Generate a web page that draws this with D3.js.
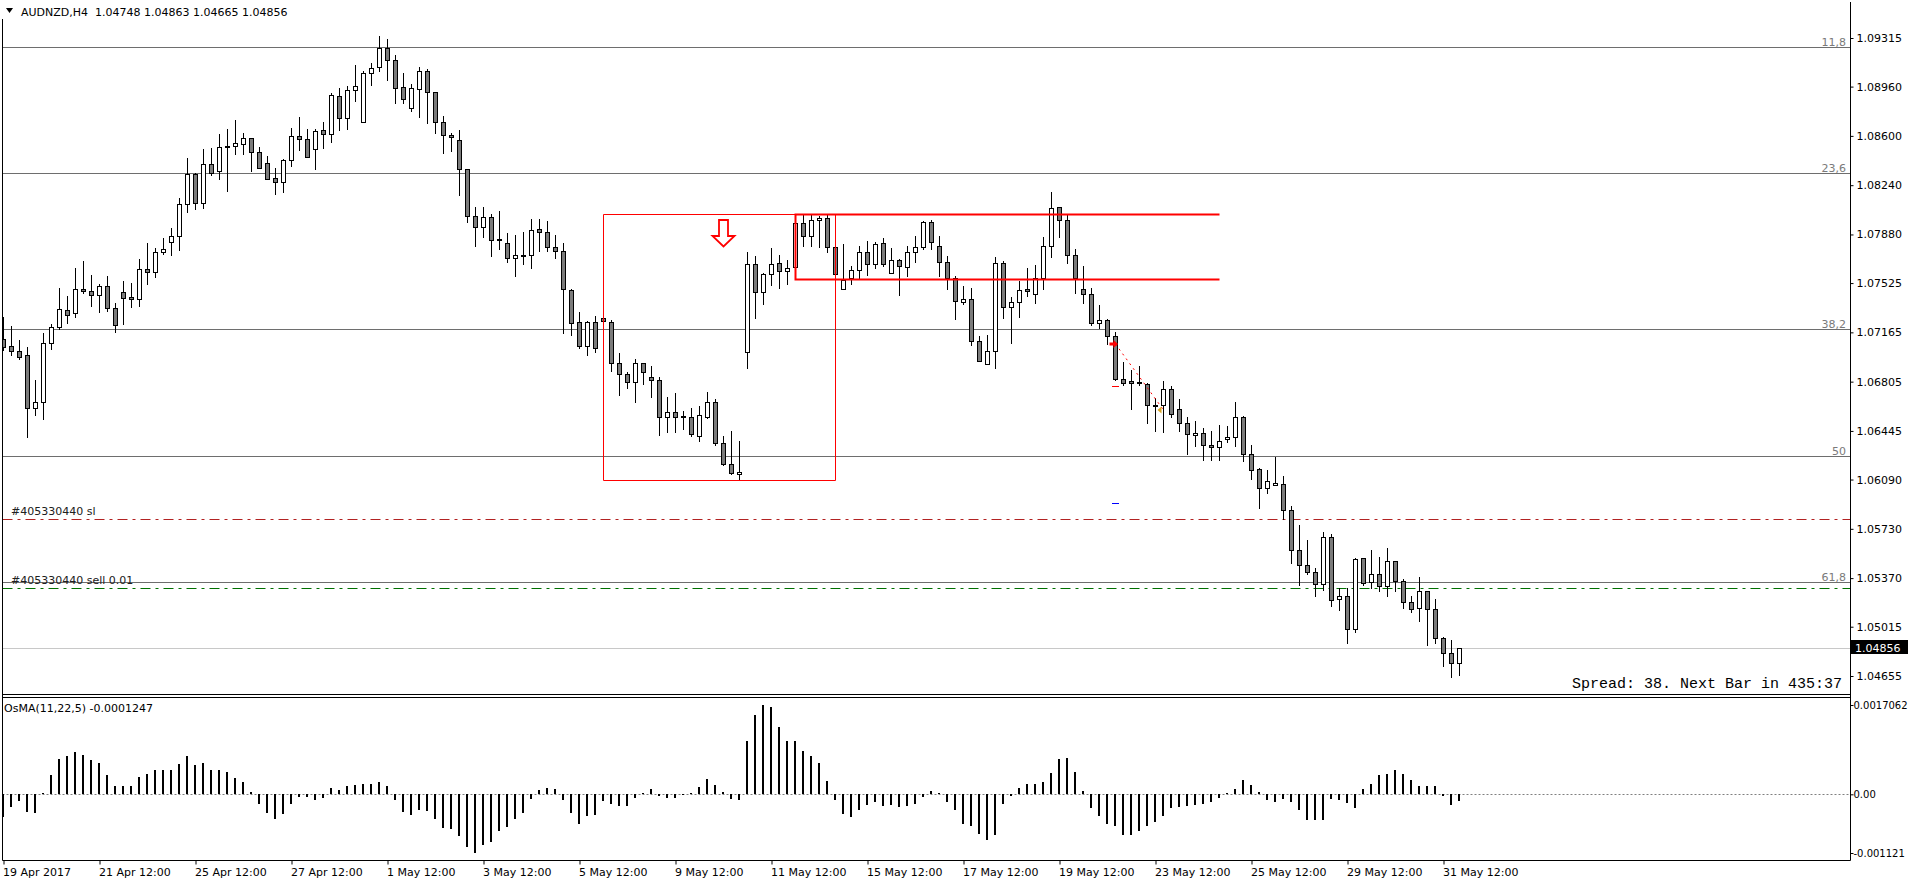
<!DOCTYPE html>
<html>
<head>
<meta charset="utf-8">
<style>
  body { margin: 0; background: #fff; }
  svg { display: block; }
  svg text {
    font-family: "DejaVu Sans", sans-serif;
    font-size: 11px;
    fill: #000;
  }
  svg text.mono {
    font-family: "Liberation Mono", "Courier New", monospace;
    font-size: 15px;
  }
  .axis path.domain { display: none; }
  .axis line { stroke: #000; }
  .osma-axis text { font-size: 10px; }
</style>
<script src="https://d3js.org/d3.v7.min.js"></script>
</head>
<body>
<script>
// AUDNZD H4, 19 Apr 2017 .. 31 May 2017
const open = [1.07117,1.07065,1.07029,1.07000,1.06613,1.06656,1.07087,1.07204,1.07328,1.07306,
  1.07482,1.07467,1.07438,1.07504,1.07343,1.07460,1.07423,1.07409,1.07628,1.07606,
  1.07752,1.07825,1.07869,1.08103,1.08322,1.08110,1.08395,1.08344,1.08526,1.08526,
  1.08541,1.08585,1.08482,1.08402,1.08293,1.08263,1.08424,1.08599,1.08577,1.08504,
  1.08643,1.08614,1.08891,1.08731,1.08935,1.08702,1.09059,1.09103,1.09242,1.09154,
  1.08957,1.08804,1.08943,1.09074,1.08921,1.08702,1.08607,1.08570,1.08358,1.08015,
  1.07935,1.08008,1.07847,1.07818,1.07708,1.07730,1.07730,1.07920,1.07898,1.07789,
  1.07759,1.07474,1.07241,1.07065,1.07241,1.07270,1.07241,1.06941,1.06861,1.06803,
  1.06941,1.06839,1.06817,1.06547,1.06583,1.06554,1.06547,1.06408,1.06547,1.06656,
  1.06357,1.06203,1.06130,1.07022,1.07664,1.07460,1.07591,1.07672,1.07613,1.07642,
  1.07964,1.07869,1.07986,1.08000,1.07789,1.07482,1.07562,1.07620,1.07752,1.07664,
  1.07818,1.07599,1.07694,1.07642,1.07752,1.07789,1.07971,1.07796,1.07679,1.07562,
  1.07387,1.07409,1.07102,1.06934,1.07029,1.07672,1.07350,1.07387,1.07482,1.07445,
  1.07562,1.07796,1.08081,1.07986,1.07730,1.07482,1.07445,1.07233,1.07255,1.07139,
  1.06824,1.06810,1.06803,1.06788,1.06634,1.06634,1.06751,1.06605,1.06503,1.06415,
  1.06430,1.06342,1.06328,1.06386,1.06401,1.06547,1.06277,1.06167,1.06028,1.06050,
  1.06058,1.05868,1.05575,1.05466,1.05415,1.05327,1.05670,1.05217,1.05239,1.04998,
  1.05517,1.05342,1.05400,1.05312,1.05495,1.05349,1.05196,1.05152,1.05276,1.05144,
  1.04933,1.04823,1.04748];
const high = [1.07277,1.07212,1.07109,1.07058,1.06817,1.07160,1.07226,1.07489,1.07431,1.07635,
  1.07686,1.07584,1.07518,1.07577,1.07380,1.07540,1.07526,1.07701,1.07818,1.07781,
  1.07854,1.07927,1.08146,1.08439,1.08329,1.08504,1.08512,1.08614,1.08650,1.08716,
  1.08621,1.08585,1.08519,1.08453,1.08366,1.08431,1.08658,1.08738,1.08650,1.08650,
  1.08702,1.08913,1.08950,1.08965,1.09118,1.09074,1.09132,1.09330,1.09308,1.09191,
  1.09059,1.08979,1.09103,1.09089,1.08921,1.08745,1.08621,1.08643,1.08358,1.08081,
  1.08081,1.08030,1.08052,1.07891,1.07876,1.07898,1.07993,1.07993,1.07978,1.07876,
  1.07818,1.07482,1.07314,1.07248,1.07285,1.07270,1.07255,1.07014,1.06876,1.06971,
  1.06941,1.06919,1.06839,1.06693,1.06722,1.06591,1.06613,1.06627,1.06729,1.06678,
  1.06408,1.06445,1.06371,1.07752,1.07723,1.07599,1.07781,1.07730,1.07694,1.07964,
  1.08022,1.08030,1.08015,1.08022,1.07789,1.07810,1.07650,1.07796,1.07832,1.07825,
  1.07854,1.07781,1.07701,1.07796,1.07869,1.07978,1.07986,1.07869,1.07723,1.07577,
  1.07504,1.07489,1.07139,1.07146,1.07716,1.07686,1.07423,1.07540,1.07635,1.07657,
  1.07862,1.08190,1.08081,1.08030,1.07774,1.07650,1.07489,1.07365,1.07263,1.07168,
  1.06949,1.06890,1.06919,1.06795,1.06686,1.06810,1.06773,1.06678,1.06547,1.06518,
  1.06467,1.06445,1.06488,1.06481,1.06656,1.06554,1.06342,1.06174,1.06160,1.06255,
  1.06116,1.05897,1.05758,1.05648,1.05444,1.05707,1.05692,1.05298,1.05298,1.05517,
  1.05517,1.05575,1.05524,1.05590,1.05495,1.05365,1.05239,1.05378,1.05276,1.05217,
  1.04940,1.04918,1.04863];
const low = [1.07036,1.07000,1.06971,1.06401,1.06561,1.06532,1.07044,1.07190,1.07233,1.07277,
  1.07453,1.07358,1.07314,1.07321,1.07168,1.07226,1.07350,1.07358,1.07518,1.07569,
  1.07737,1.07730,1.07767,1.08044,1.08066,1.08073,1.08314,1.08285,1.08198,1.08468,
  1.08468,1.08344,1.08366,1.08285,1.08176,1.08190,1.08380,1.08497,1.08446,1.08358,
  1.08512,1.08555,1.08643,1.08650,1.08855,1.08702,1.08972,1.09074,1.09008,1.08840,
  1.08840,1.08782,1.08738,1.08694,1.08621,1.08475,1.08490,1.08168,1.07971,1.07796,
  1.07862,1.07723,1.07774,1.07679,1.07577,1.07664,1.07635,1.07759,1.07759,1.07708,
  1.07160,1.07146,1.07051,1.07000,1.07023,1.07241,1.06883,1.06708,1.06759,1.06656,
  1.06788,1.06693,1.06415,1.06437,1.06437,1.06459,1.06408,1.06371,1.06539,1.06342,
  1.06196,1.06130,1.06087,1.06905,1.07270,1.07372,1.07511,1.07489,1.07518,1.07642,
  1.07796,1.07796,1.07789,1.07752,1.07591,1.07482,1.07518,1.07562,1.07584,1.07635,
  1.07650,1.07599,1.07438,1.07577,1.07679,1.07774,1.07774,1.07577,1.07482,1.07263,
  1.07372,1.07073,1.06956,1.06934,1.06905,1.07270,1.07087,1.07277,1.07431,1.07380,
  1.07482,1.07716,1.07862,1.07672,1.07453,1.07380,1.07219,1.07197,1.07080,1.06817,
  1.06781,1.06605,1.06781,1.06503,1.06445,1.06437,1.06547,1.06445,1.06277,1.06335,
  1.06233,1.06233,1.06233,1.06364,1.06335,1.06225,1.06094,1.05882,1.05992,1.06050,
  1.05802,1.05480,1.05320,1.05400,1.05239,1.05283,1.05166,1.05137,1.04896,1.04976,
  1.05320,1.05298,1.05276,1.05239,1.05276,1.05152,1.05123,1.05057,1.04881,1.04896,
  1.04728,1.04648,1.04665];
const close = [1.07058,1.07029,1.06985,1.06613,1.06656,1.07087,1.07204,1.07336,1.07292,1.07482,
  1.07467,1.07438,1.07504,1.07343,1.07219,1.07416,1.07409,1.07628,1.07606,1.07752,
  1.07774,1.07869,1.08103,1.08322,1.08110,1.08395,1.08329,1.08519,1.08519,1.08548,
  1.08585,1.08482,1.08366,1.08285,1.08263,1.08424,1.08599,1.08577,1.08446,1.08636,
  1.08614,1.08899,1.08731,1.08935,1.08965,1.09059,1.09096,1.09242,1.09154,1.08950,
  1.08870,1.08950,1.09074,1.08921,1.08702,1.08607,1.08592,1.08358,1.08015,1.07935,
  1.08008,1.07840,1.07840,1.07708,1.07730,1.07723,1.07913,1.07898,1.07789,1.07759,
  1.07482,1.07233,1.07065,1.07241,1.07051,1.07248,1.06941,1.06861,1.06803,1.06941,
  1.06876,1.06817,1.06547,1.06583,1.06547,1.06547,1.06423,1.06561,1.06656,1.06357,
  1.06203,1.06138,1.06145,1.07664,1.07460,1.07591,1.07664,1.07613,1.07635,1.07964,
  1.07869,1.07986,1.08000,1.07789,1.07591,1.07547,1.07620,1.07752,1.07664,1.07810,
  1.07664,1.07694,1.07650,1.07752,1.07789,1.07971,1.07825,1.07679,1.07562,1.07394,
  1.07409,1.07102,1.06956,1.07029,1.07672,1.07350,1.07387,1.07474,1.07467,1.07562,
  1.07796,1.08073,1.07986,1.07730,1.07562,1.07445,1.07233,1.07255,1.07139,1.06824,
  1.06795,1.06795,1.06795,1.06634,1.06635,1.06751,1.06569,1.06503,1.06423,1.06430,
  1.06342,1.06328,1.06371,1.06401,1.06547,1.06277,1.06160,1.06028,1.06079,1.06065,
  1.05868,1.05575,1.05466,1.05415,1.05327,1.05670,1.05210,1.05239,1.04998,1.05510,
  1.05334,1.05400,1.05312,1.05495,1.05349,1.05196,1.05144,1.05276,1.05144,1.04933,
  1.04823,1.04748,1.04856];

// OsMA(11,22,5) histogram
const osma = [-0.0004259,-0.0002483,-0.0001203,-0.0003438,-0.0003495,0.0000191,0.0003686,0.0006742,0.0007315,0.0008079,
  0.0007506,0.0006551,0.0005978,0.0003686,0.0001585,0.0001585,0.0001585,0.0003304,0.0003877,0.0004641,
  0.0004641,0.0004641,0.0005787,0.0007315,0.0005596,0.0005978,0.0004641,0.0004641,0.0004259,0.0003113,
  0.0002349,0.0000439,-0.0001776,-0.0003495,-0.0004641,-0.0003763,-0.0001776,-0.0000573,-0.0000573,-0.0001146,
  -0.0000764,0.0001146,0.0000898,0.0001585,0.0001776,0.000191,0.000191,0.0002349,0.0001585,-0.0001012,
  -0.0003304,-0.0003877,-0.0003056,-0.0003247,-0.0004775,-0.0006494,-0.0006685,-0.0008022,-0.0010123,-0.001121,
  -0.0009741,-0.0009168,-0.0007067,-0.0006303,-0.0004775,-0.0003629,-0.0000955,0.0000764,0.0001146,0.0000955,
  -0.0001146,-0.0003629,-0.0005596,-0.0004202,-0.0004011,-0.0001337,-0.000191,-0.0002292,-0.0002235,-0.0000764,
  0.0000325,0.0001089,-0.0000325,-0.0000764,-0.0000764,0.0000096,0.0000191,0.0001394,0.0002865,0.0001776,
  0.0000439,-0.0000955,-0.0001146,0.0010123,0.0015223,0.0017062,0.0016617,0.0012797,0.0010123,0.0010123,
  0.0008213,0.0007258,0.0006055,0.000254,-0.0001012,-0.0003763,-0.0004259,-0.0002922,-0.0002044,-0.0001528,
  -0.0002235,-0.0002044,-0.0002426,-0.0002235,-0.0001776,-0.0000573,0.0000573,0.0000248,-0.0001394,-0.0003056,
  -0.0005596,-0.0005978,-0.0007583,-0.0008729,-0.0007774,-0.000191,-0.0000325,0.0001146,0.000191,0.000191,
  0.0002349,0.0004068,0.0006742,0.0006933,0.0004259,0.0000573,-0.0002674,-0.0004202,-0.0005596,-0.0005978,
  -0.0007831,-0.0007774,-0.0007067,-0.0005978,-0.0005214,-0.0004202,-0.000254,-0.0002349,-0.0002235,-0.0002101,
  -0.0001776,-0.0001528,-0.0000764,0.0000325,0.0001012,0.0002674,0.0001776,0.0000439,-0.0001146,-0.0001394,
  -0.0000898,-0.0001394,-0.0002922,-0.0004966,-0.0004966,-0.0004966,-0.0000955,-0.0001012,-0.0001719,-0.0002617,
  0.0000955,0.0002044,0.0003763,0.000382,0.0004641,0.000382,0.0002674,0.0001528,0.0001662,0.0001528,
  -0.0000325,-0.0002101,-0.0001247];

const timeLabels = ["19 Apr 2017","21 Apr 12:00","25 Apr 12:00","27 Apr 12:00","1 May 12:00","3 May 12:00",
  "5 May 12:00","9 May 12:00","11 May 12:00","15 May 12:00","17 May 12:00","19 May 12:00",
  "23 May 12:00","25 May 12:00","29 May 12:00","31 May 12:00"];
const labelEvery = 12;
const priceTicks = [1.09315,1.08960,1.08600,1.08240,1.07880,1.07525,1.07165,1.06805,1.06445,1.06090,1.05730,1.05370,1.05015,1.04655];
const osmaTicks = [0.0017062, 0, -0.001121];
const osmaTickText = ["0.0017062", "0.00", "-0.001121"];

const fiboNames = ["11,8", "23,6", "38,2", "50", "61,8"];
const fiboPrices = [1.09249, 1.08327, 1.07186, 1.06262, 1.05342];

const orderNames = ["#405330440 sl", "#405330440 sell 0.01"];
const orderPrices = [1.05802, 1.05298];
const bid = 1.04856;

// rectangles: [start bar, end bar], [top price, bottom price]
const boxBars = [[75, 104], [99, 152]];
const boxPrices = [[1.08030, 1.06087], [1.08030, 1.07555]];
const arrowBar = 90, arrowPrice = 1.07986;
const tradeBars = [139, 145];
const tradePrices = [1.07080, 1.06598];
const stopMarks = [1.06773, 1.05919];

const header = "AUDNZD,H4  1.04748 1.04863 1.04665 1.04856";
const osmaName = "OsMA(11,22,5) -0.0001247";
const spreadText = "Spread: 38. Next Bar in 435:37";

// ---------------------------------------------------------------
const W = 1910, H = 884;
const plotL = 2.5, plotR = 1850.5;
const mainBottom = 694.5, subTop = 697.5, subBottom = 860.5;
const crisp = v => Math.round(v) + 0.5;

const svg = d3.select("body").append("svg")
    .attr("width", W).attr("height", H);

const x = d3.scaleLinear().domain([0, open.length - 1]).range([3.5, 3.5 + 8 * (open.length - 1)]);
const y = d3.scaleLinear().domain([1.04655, 1.09315]).range([676, 38]);
const yo = d3.scaleLinear().domain([-0.001121, 0.0017062]).range([853, 705]);

const defs = svg.append("defs");
defs.append("clipPath").attr("id", "clipMain")
    .append("rect").attr("x", 3).attr("y", 0).attr("width", plotR - 3.5).attr("height", 694);
defs.append("clipPath").attr("id", "clipSub")
    .append("rect").attr("x", 3).attr("y", 698).attr("width", plotR - 3.5).attr("height", 162);

const main = svg.append("g").attr("clip-path", "url(#clipMain)");

// fibo levels (background)
main.selectAll("line.fibo").data(fiboPrices).join("line")
    .attr("class", "fibo")
    .attr("x1", plotL).attr("x2", plotR)
    .attr("y1", d => crisp(y(d))).attr("y2", d => crisp(y(d)))
    .attr("stroke", "#6e6e6e");

// order lines
const orderColors = ["#b22222", "#007000"];
main.selectAll("line.order").data(orderPrices).join("line")
    .attr("class", "order")
    .attr("x1", plotL).attr("x2", plotR)
    .attr("y1", d => crisp(y(d))).attr("y2", d => crisp(y(d)))
    .attr("stroke", (d, i) => orderColors[i])
    .attr("stroke-dasharray", "10,5,3,5");

// bid line
main.append("line")
    .attr("x1", plotL).attr("x2", plotR)
    .attr("y1", crisp(y(bid))).attr("y2", crisp(y(bid)))
    .attr("stroke", "#c8c8c8");

// candles
const bars = d3.range(open.length);
const cg = main.append("g");
cg.selectAll("line.wick").data(bars).join("line")
    .attr("class", "wick")
    .attr("x1", i => x(i)).attr("x2", i => x(i))
    .attr("y1", i => Math.round(y(high[i])))
    .attr("y2", i => Math.round(y(low[i])) + 1)
    .attr("stroke", "#000");
cg.selectAll("rect.body").data(bars).join("rect")
    .attr("class", "body")
    .attr("x", i => x(i) - 2)
    .attr("width", 4)
    .attr("y", i => Math.round(y(Math.max(open[i], close[i]))) + 0.5)
    .attr("height", i => Math.max(1, Math.round(y(Math.min(open[i], close[i]))) - Math.round(y(Math.max(open[i], close[i])))))
    .attr("fill", i => close[i] >= open[i] ? "#fff" : "#7b7b7b")
    .attr("stroke", "#000");

// rectangles (the second one is open on its right side, as in the terminal)
main.selectAll("path.box").data(boxBars).join("path")
    .attr("class", "box")
    .attr("d", (d, i) => {
        const x0 = x(d[0]), x1 = x(d[1]);
        const y0 = crisp(y(boxPrices[i][0])), y1 = crisp(y(boxPrices[i][1]));
        return i === 0
            ? `M${x0},${y0} H${x1} V${y1} H${x0} Z`
            : `M${x1},${y0} H${x0} V${y1} H${x1}`;
    })
    .attr("fill", "none")
    .attr("stroke", "#ff0000")
    .attr("stroke-width", (d, i) => i === 0 ? 1 : 2);

// sell arrow
const ax = x(arrowBar), ay = Math.round(y(arrowPrice));
main.append("path")
    .attr("d", `M${ax - 4.5},${ay} h9 v16 h6.5 l-11,10.5 l-11,-10.5 h6.5 z`)
    .attr("fill", "#fff")
    .attr("stroke", "#ff0000")
    .attr("stroke-width", 1.8)
    .attr("stroke-linejoin", "miter");

// trade marks
const t0x = x(tradeBars[0]), t0y = y(tradePrices[0]);
const t1x = x(tradeBars[1]), t1y = y(tradePrices[1]);
main.append("line")
    .attr("x1", t0x).attr("y1", t0y).attr("x2", t1x).attr("y2", t1y)
    .attr("stroke", "#ff0000").attr("stroke-dasharray", "2,4");
main.append("path")
    .attr("d", `M${t0x - 6},${t0y - 1.5} h4 v-2.5 l4.5,4 l-4.5,4 v-2.5 h-4 z`)
    .attr("fill", "#ff0000");
main.append("path")
    .attr("d", `M${t1x - 2},${t1y - 3.5} v7 l-4,-3.5 z`)
    .attr("fill", "#daa520");
main.selectAll("line.stopmark").data(stopMarks).join("line")
    .attr("class", "stopmark")
    .attr("x1", x(tradeBars[0]) - 3.5).attr("x2", x(tradeBars[0]) + 3.5)
    .attr("y1", d => crisp(y(d))).attr("y2", d => crisp(y(d)))
    .attr("stroke", (d, i) => i === 0 ? "#ff0000" : "#0000ff");

// fibo labels
svg.selectAll("text.fibo").data(fiboPrices).join("text")
    .attr("class", "fibo")
    .attr("x", 1846).attr("y", d => Math.round(y(d)) - 1)
    .attr("text-anchor", "end")
    .style("fill", "#7a7a7a")
    .text((d, i) => fiboNames[i]);

// order labels
svg.selectAll("text.order").data(orderPrices).join("text")
    .attr("class", "order")
    .attr("x", 11).attr("y", d => Math.round(y(d)) - 4)
    .style("fill", "#202020")
    .text((d, i) => orderNames[i]);

// header
svg.append("path").attr("d", "M6,8 h7 l-3.5,5 z").attr("fill", "#000");
svg.append("text").attr("x", 21).attr("y", 16)
    .style("white-space", "pre").text(header);

// spread info
svg.append("text").attr("class", "mono")
    .attr("x", 1842).attr("y", 688)
    .attr("text-anchor", "end")
    .text(spreadText);

// ---- OsMA window
const sub = svg.append("g").attr("clip-path", "url(#clipSub)");
sub.append("line")
    .attr("x1", plotL).attr("x2", plotR)
    .attr("y1", crisp(yo(0))).attr("y2", crisp(yo(0)))
    .attr("stroke", "#808080").attr("stroke-dasharray", "2,2");
sub.selectAll("rect.hist").data(bars).join("rect")
    .attr("class", "hist")
    .attr("x", i => x(i) - 1.5)
    .attr("width", 2)
    .attr("y", i => Math.round(yo(Math.max(osma[i], 0))))
    .attr("height", i => Math.max(1, Math.abs(Math.round(yo(osma[i])) - Math.round(yo(0)))))
    .attr("fill", "#000");
svg.append("text").attr("x", 4).attr("y", 712).text(osmaName);

// ---- frames
const frame = svg.append("g").attr("stroke", "#000").attr("fill", "none");
frame.append("line").attr("x1", plotL).attr("x2", plotL).attr("y1", 19).attr("y2", subBottom);
frame.append("line").attr("x1", plotR).attr("x2", plotR).attr("y1", 2).attr("y2", subBottom);
frame.append("line").attr("x1", plotL).attr("x2", plotR).attr("y1", mainBottom).attr("y2", mainBottom);
frame.append("line").attr("x1", plotL).attr("x2", plotR).attr("y1", subTop).attr("y2", subTop);
frame.append("line").attr("x1", plotL).attr("x2", plotR).attr("y1", subBottom).attr("y2", subBottom);

// ---- price axis
svg.append("g").attr("class", "axis")
    .attr("transform", `translate(${plotR},0)`)
    .call(d3.axisRight(y).tickValues(priceTicks).tickSize(3).tickSizeOuter(0).tickFormat(d3.format(".5f")))
    .call(g => g.selectAll("text").attr("x", 6));

// bid label
svg.append("rect").attr("x", 1851).attr("y", Math.round(y(bid)) - 8)
    .attr("width", 57).attr("height", 14).attr("fill", "#000");
svg.append("text").attr("x", 1855).attr("y", Math.round(y(bid)) + 4)
    .style("fill", "#fff").text(d3.format(".5f")(bid));

// ---- OsMA axis
svg.append("g").attr("class", "axis osma-axis")
    .attr("transform", `translate(${plotR},0)`)
    .call(d3.axisRight(yo).tickValues(osmaTicks).tickSize(3).tickSizeOuter(0)
        .tickFormat((d, i) => osmaTickText[i]))
    .call(g => g.selectAll("text").attr("x", 3));

// ---- time axis
const labelBars = timeLabels.map((d, i) => i * labelEvery);
svg.append("g").attr("class", "axis")
    .attr("transform", `translate(0,${subBottom})`)
    .call(d3.axisBottom(x).tickValues(labelBars).tickSize(4).tickSizeOuter(0)
        .tickFormat((d, i) => timeLabels[i]))
    .call(g => g.selectAll("text").attr("text-anchor", "start").attr("x", -1).attr("y", 8));
</script>
</body>
</html>
